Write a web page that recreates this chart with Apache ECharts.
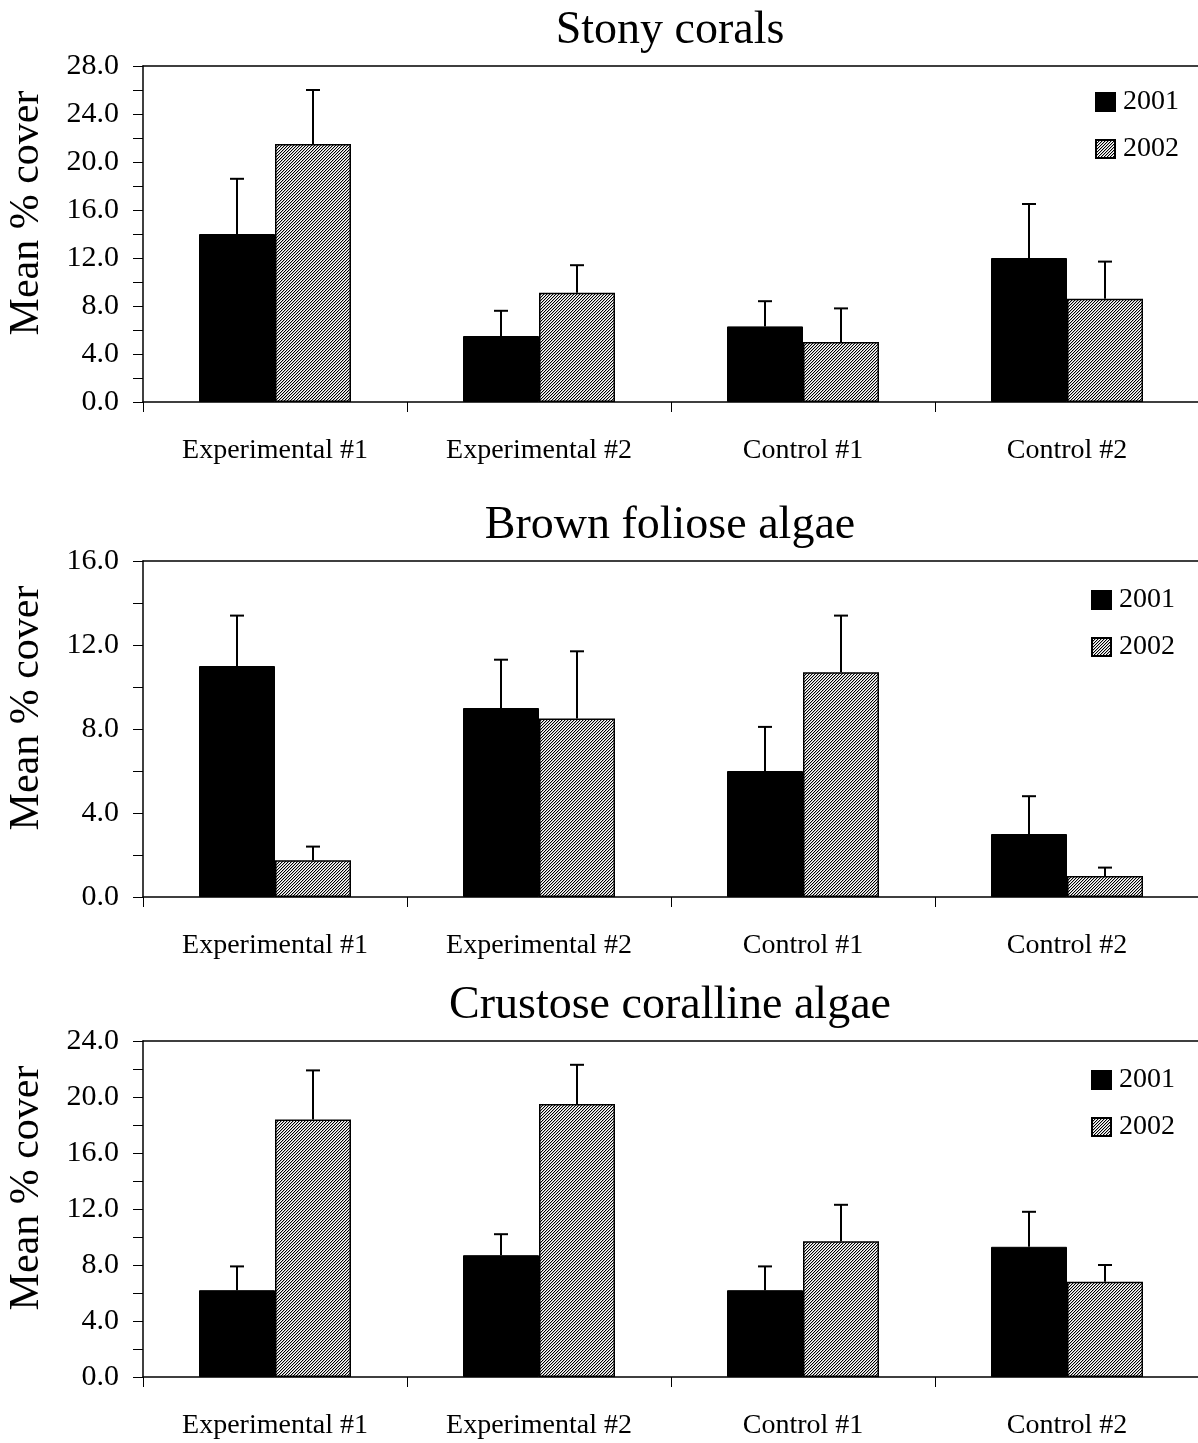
<!DOCTYPE html>
<html>
<head>
<meta charset="utf-8">
<script src="https://cdn.jsdelivr.net/npm/echarts@6/dist/echarts.min.js"></script>
<style>
html,body{margin:0;padding:0;background:#fff;}
#chart{width:1198px;height:1443px;}
</style>
</head>
<body>
<div id="chart"></div>
<script>
// ---- data ----
const categories = ['Experimental #1', 'Experimental #2', 'Control #1', 'Control #2'];
const years = ['2001', '2002'];
const titles = ['Stony corals', 'Brown foliose algae', 'Crustose coralline algae'];

const stony2001 = [14.0, 5.5, 6.3, 12.0];
const stony2001Err = [4.6, 2.1, 2.1, 4.5];
const stony2002 = [21.5, 9.1, 5.0, 8.6];
const stony2002Err = [4.5, 2.3, 2.8, 3.1];

const brown2001 = [11.0, 9.0, 6.0, 3.0];
const brown2001Err = [2.4, 2.3, 2.1, 1.8];
const brown2002 = [1.75, 8.5, 10.7, 1.0];
const brown2002Err = [0.65, 3.2, 2.7, 0.4];

const crust2001 = [6.2, 8.7, 6.2, 9.3];
const crust2001Err = [1.7, 1.5, 1.7, 2.5];
const crust2002 = [18.4, 19.5, 9.7, 6.8];
const crust2002Err = [3.5, 2.8, 2.6, 1.2];

const yMax = [28, 16, 24];
const yInterval = [4, 4, 4];

// ---- styling / layout ----
const FONT = '"Liberation Serif", "Times New Roman", serif';
const gridTops = [66, 561, 1041];
const gridH = 336;
const gridLeft = 143;
const gridW = 1056;
const titleTops = [3, 498, 978];
const legendTops = [22, 25, 25];
const legendLefts = [1095, 1091, 1091];
const BAR_W = 76;

// hatch pattern
const pc = document.createElement('canvas');
pc.width = 3; pc.height = 3;
const pctx = pc.getContext('2d');
pctx.fillStyle = '#ffffff';
pctx.fillRect(0, 0, 3, 3);
for (let x = 0; x < 3; x++) {
  for (let y = 0; y < 3; y++) {
    const m = (x + y) % 3;
    if (m === 0) { pctx.fillStyle = '#000000'; pctx.fillRect(x, y, 1, 1); }
    else if (m === 1) { pctx.fillStyle = '#bbbbbb'; pctx.fillRect(x, y, 1, 1); }
  }
}
const hatch = { image: pc, repeat: 'repeat' };

const panels = [
  [stony2001, stony2001Err, stony2002, stony2002Err],
  [brown2001, brown2001Err, brown2002, brown2002Err],
  [crust2001, crust2001Err, crust2002, crust2002Err]
];

const option = {
  backgroundColor: '#ffffff',
  animation: false,
  title: [], grid: [], xAxis: [], yAxis: [], legend: [], series: []
};

function errRender(offset) {
  return function (params, api) {
    const ci = api.value(0);
    const v = api.value(1);
    const e = api.value(2);
    const base = api.coord([ci, v]);
    const top = api.coord([ci, v + e]);
    const x = base[0] + offset;
    const st = { stroke: '#000', lineWidth: 2 };
    return {
      type: 'group',
      children: [
        { type: 'line', shape: { x1: x, y1: base[1], x2: x, y2: top[1] }, style: st },
        { type: 'line', shape: { x1: x - 7, y1: top[1], x2: x + 7, y2: top[1] }, style: st }
      ]
    };
  };
}

panels.forEach((p, i) => {
  option.title.push({
    text: titles[i],
    left: gridLeft + gridW / 2 - 6,
    textAlign: 'center',
    top: titleTops[i],
    textStyle: { fontFamily: FONT, fontSize: 46, fontWeight: 'normal', color: '#000' }
  });
  option.grid.push({ left: gridLeft, top: gridTops[i], width: gridW, height: gridH,
    containLabel: false, outerBoundsMode: 'none' });
  option.xAxis.push({
    type: 'category', gridIndex: i, data: categories,
    axisLine: { lineStyle: { color: '#000', width: 1.5 } },
    axisTick: { show: true, length: 10, lineStyle: { color: '#000', width: 1 } },
    axisLabel: { fontFamily: FONT, fontSize: 28, color: '#000', margin: 35, interval: 0 },
    splitLine: { show: false }
  });
  option.xAxis.push({
    type: 'category', gridIndex: i, data: categories, position: 'top',
    axisLine: { show: true, lineStyle: { color: '#000', width: 1.5 } },
    axisTick: { show: false }, axisLabel: { show: false }, splitLine: { show: false }
  });
  option.yAxis.push({
    type: 'value', gridIndex: i, min: 0, max: yMax[i], interval: yInterval[i],
    name: 'Mean % cover', nameLocation: 'middle', nameGap: 95, nameRotate: 90,
    nameTextStyle: { fontFamily: FONT, fontSize: 42, color: '#000', padding: [0, 0, 0, 42] },
    axisLine: { show: true, lineStyle: { color: '#000', width: 1.5 } },
    axisTick: { show: true, length: 10, lineStyle: { color: '#000', width: 1 } },
    minorTick: { show: true, splitNumber: 2, length: 10, lineStyle: { color: '#000', width: 1 } },
    axisLabel: { fontFamily: FONT, fontSize: 30, color: '#000', margin: 24,
      formatter: v => v.toFixed(1) },
    splitLine: { show: false }
  });
  option.legend.push({
    data: years,
    orient: 'vertical',
    left: legendLefts[i], top: gridTops[i] + legendTops[i],
    padding: 0,
    itemWidth: 19, itemHeight: 18, itemGap: 19,
    icon: 'rect',
    selectedMode: false,
    textStyle: { fontFamily: FONT, fontSize: 28, color: '#000', padding: [0, 0, 0, 3] }
  });
  const xa = i * 2, ya = i;
  option.series.push({
    name: years[0], type: 'bar', xAxisIndex: xa, yAxisIndex: ya, data: p[0],
    barWidth: BAR_W, barGap: '0%',
    itemStyle: { color: '#000', borderColor: '#000', borderWidth: 1 }
  });
  option.series.push({
    name: years[1], type: 'bar', xAxisIndex: xa, yAxisIndex: ya, data: p[2],
    barWidth: BAR_W, barGap: '0%',
    itemStyle: { color: hatch, borderColor: '#000', borderWidth: 1.5 }
  });
  option.series.push({
    name: 'err2001_' + i, type: 'custom', xAxisIndex: xa, yAxisIndex: ya, z: 5,
    renderItem: errRender(-BAR_W / 2),
    data: p[0].map((v, k) => [k, v, p[1][k]])
  });
  option.series.push({
    name: 'err2002_' + i, type: 'custom', xAxisIndex: xa, yAxisIndex: ya, z: 5,
    renderItem: errRender(BAR_W / 2),
    data: p[2].map((v, k) => [k, v, p[3][k]])
  });
});

const chart = echarts.init(document.getElementById('chart'), null, { renderer: 'canvas' });
chart.setOption(option);
</script>
</body>
</html>
